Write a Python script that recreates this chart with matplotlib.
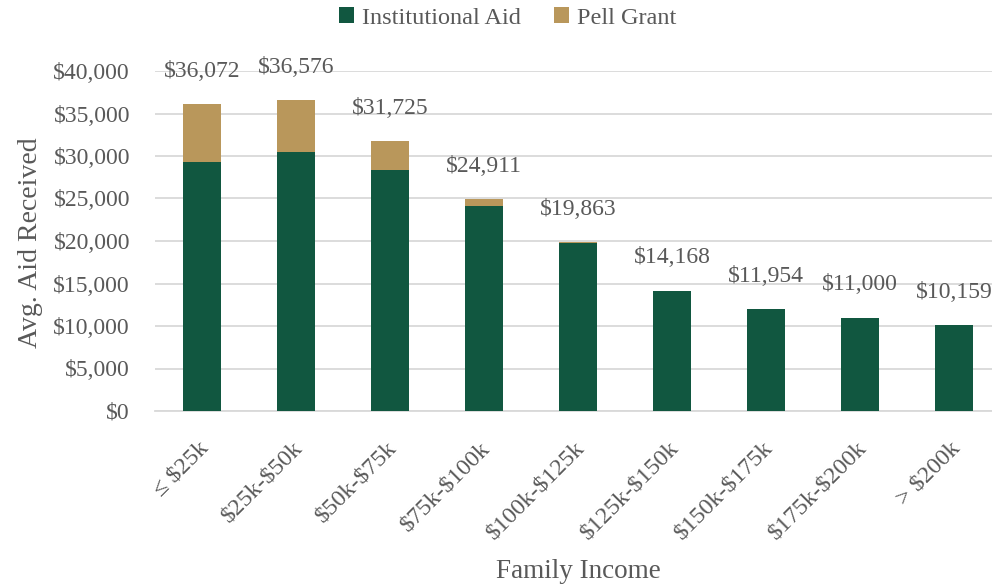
import matplotlib.pyplot as plt
import numpy as np

# average aid by family income bracket
brackets = ["≤ $25k", "$25k-$50k", "$50k-$75k", "$75k-$100k", "$100k-$125k",
            "$125k-$150k", "$150k-$175k", "$175k-$200k", "> $200k"]
totals = [36072, 36576, 31725, 24911, 19863, 14168, 11954, 11000, 10159]
pell = [6770, 6080, 3320, 760, 80, 0, 0, 0, 0]
institutional = [t - p for t, p in zip(totals, pell)]

green = "#115740"
gold = "#B9975B"
grey = "#595959"

plt.rcParams["text.parse_math"] = False
plt.rcParams["font.family"] = ["Liberation Serif", "DejaVu Serif"]

fig = plt.figure(figsize=(9.92, 5.86), dpi=100)
ax = fig.add_axes([155 / 992, 1 - 411 / 586, 846 / 992, 340 / 586])

x = np.arange(len(brackets))
w = 0.4
ax.bar(x, institutional, w, color=green, label="Institutional Aid", zorder=3)
ax.bar(x, pell, w, bottom=institutional, color=gold, label="Pell Grant", zorder=3)

for xi, t in zip(x, totals):
    ax.annotate(f"${t:,}", (xi, t), xytext=(0, 23.5), textcoords="offset points",
                ha="center", va="center", fontsize=17, color=grey,
                annotation_clip=False)

ax.set_xlim(-0.5, len(brackets) - 0.5)
ax.set_ylim(0, 40000)
ax.set_yticks(range(0, 40001, 5000))
ax.set_yticklabels([f"${v:,}" for v in range(0, 40001, 5000)])
ax.yaxis.grid(True, color="#D9D9D9", linewidth=1.3, zorder=0)
ax.set_axisbelow(True)

# slanted category labels under each bar
ax.set_xticks(x)
ax.set_xticklabels([])
for xi, name in zip(x, brackets):
    ax.annotate(name, (xi, 0), xycoords=("data", "axes fraction"),
                xytext=(-3, -19), textcoords="offset points",
                rotation=45, ha="right", va="top", rotation_mode="anchor",
                fontsize=17.5, color=grey, annotation_clip=False)

ax.tick_params(axis="y", length=0, labelcolor=grey, labelsize=17, pad=18)
ax.tick_params(axis="x", length=0)

for s in ["top", "right", "left"]:
    ax.spines[s].set_visible(False)
ax.spines["bottom"].set_color("#D9D9D9")
ax.spines["bottom"].set_linewidth(1.3)

fig.text(31 / 992, 1 - 243 / 586, "Avg. Aid Received", rotation=90, ha="center",
         va="center", fontsize=20, color=grey)
fig.text(578 / 992, 1 - 572 / 586, "Family Income", ha="center", va="center",
         fontsize=19.5, color=grey)

fig.legend(loc="center", bbox_to_anchor=(508 / 992, 1 - 18 / 586), ncol=2, frameon=False,
           fontsize=17.5, labelcolor=grey, handlelength=0.62, handleheight=0.62,
           handletextpad=0.33, columnspacing=1.36)

fig.savefig("out.png", dpi=100)
